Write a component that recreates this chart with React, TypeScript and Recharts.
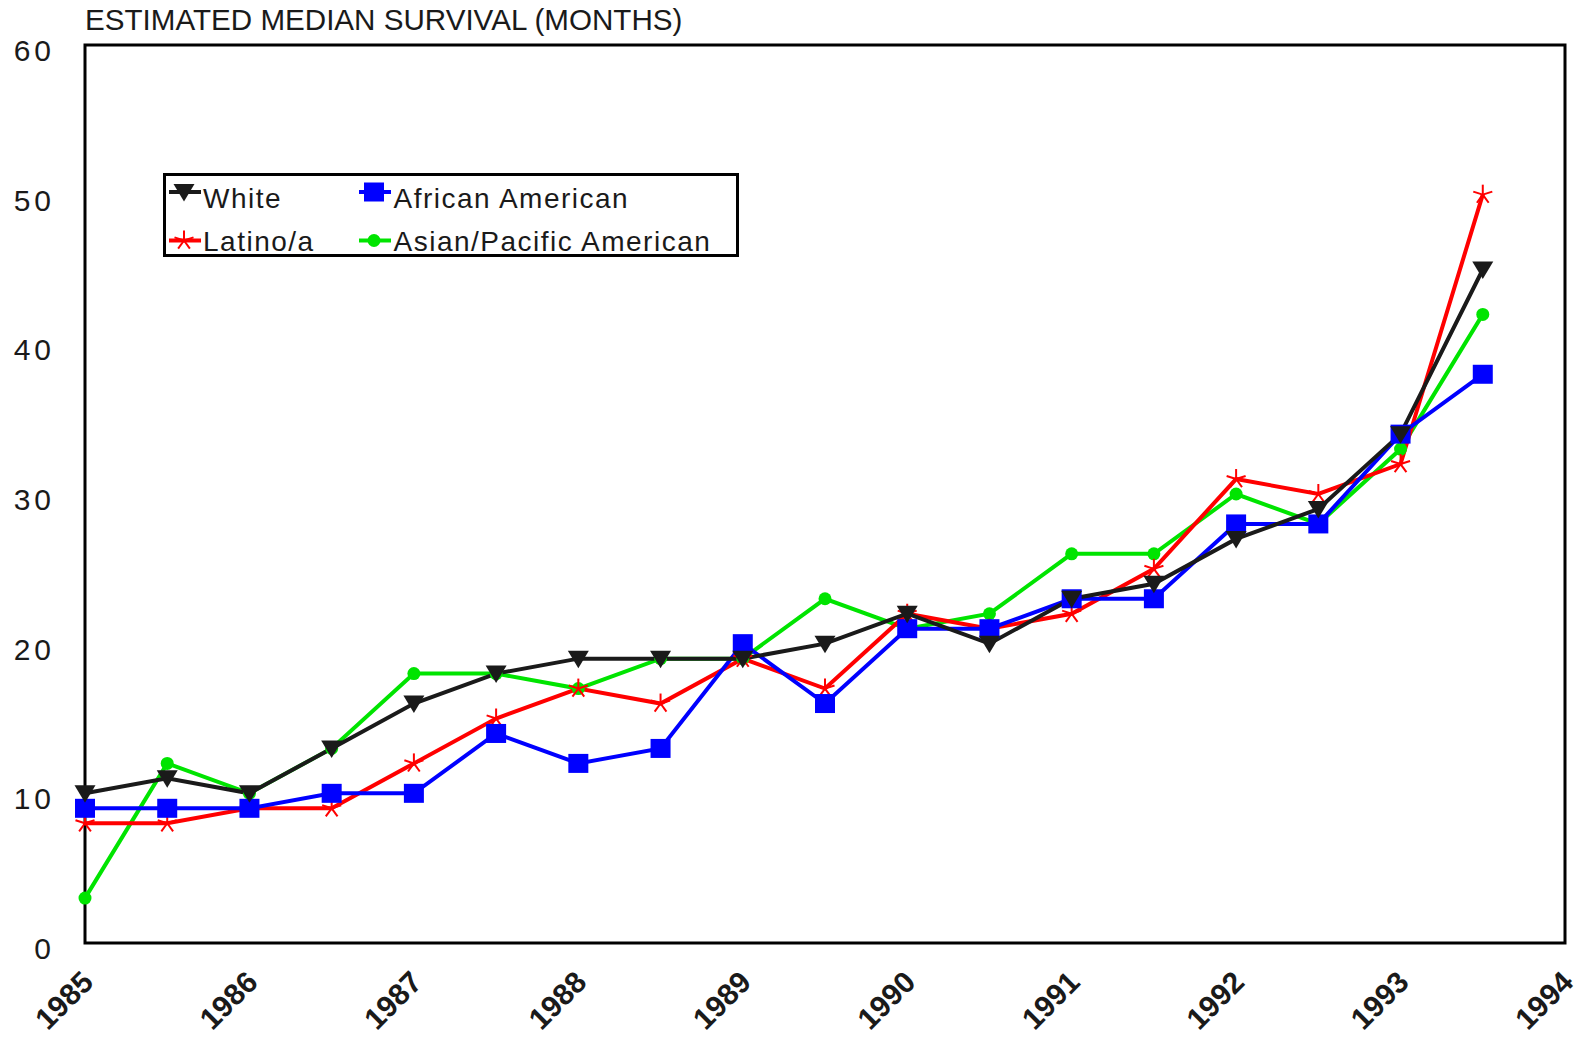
import React from 'react';
import { LineChart, Line, XAxis, YAxis, ReferenceArea, Legend } from 'recharts';

const years = [1985, 1985.5, 1986, 1986.5, 1987, 1987.5, 1988, 1988.5, 1989, 1989.5, 1990, 1990.5, 1991, 1991.5, 1992, 1992.5, 1993, 1993.5];
const white = [10, 11, 10, 13, 16, 18, 19, 19, 19, 20, 22, 20, 23, 24, 27, 29, 34, 45];
const latino = [8, 8, 9, 9, 12, 15, 17, 16, 19, 17, 22, 21, 22, 25, 31, 30, 32, 50];
const african = [9, 9, 9, 10, 10, 14, 12, 13, 20, 16, 21, 21, 23, 23, 28, 28, 34, 38];
const asian = [3, 12, 10, 13, 18, 18, 17, 19, 19, 23, 21, 22, 26, 26, 30, 28, 33, 42];

const xTicks = [1985, 1986, 1987, 1988, 1989, 1990, 1991, 1992, 1993, 1994];
const yTicks = [0, 10, 20, 30, 40, 50, 60];

const data = years.map((year, i) => ({
  year,
  white: white[i],
  latino: latino[i],
  african: african[i],
  asian: asian[i],
}));

const FONT = '"Liberation Sans", Arial, Helvetica, sans-serif';
const BLACK = '#1a1a1a';
const RED = '#ff0000';
const BLUE = '#0000ff';
const GREEN = '#00e400';

function triangle(cx: number, cy: number, key?: any) {
  return <polygon key={key} points={`${cx - 10.5},${cy - 8} ${cx + 10.5},${cy - 8} ${cx},${cy + 9.5}`} fill={BLACK} stroke="none" />;
}
function square(cx: number, cy: number, key?: any) {
  return <rect key={key} x={cx - 10} y={cy - 9.5} width={20} height={19} fill={BLUE} stroke="none" />;
}
function circle(cx: number, cy: number, key?: any) {
  return <circle key={key} cx={cx} cy={cy} r={6.5} fill={GREEN} stroke="none" />;
}
function asterisk(cx: number, cy: number, key?: any) {
  const r = 10;
  const angles = [-90, -18, 54, 126, 198];
  return (
    <g key={key}>
      {angles.map((a, i) => {
        const rad = (a * Math.PI) / 180;
        return <line key={i} x1={cx} y1={cy} x2={cx + r * Math.cos(rad)} y2={cy + r * Math.sin(rad)} stroke={RED} strokeWidth={2} />;
      })}
    </g>
  );
}

const mkDot = (fn: any, prefix: string) => (props: any) => {
  const { cx, cy, index } = props;
  if (cx == null || cy == null) return <g key={`${prefix}-${index}`} />;
  return fn(cx, cy, `${prefix}-${index}`);
};

const YTick = (props: any) => {
  const { x, y, payload } = props;
  return (
    <text x={x - 30} y={y + 16} textAnchor="end" fontSize={30} letterSpacing={4} fill={BLACK} fontFamily={FONT}>
      {payload.value}
    </text>
  );
};

const XTick = (props: any) => {
  const { x, y, payload } = props;
  return (
    <text transform={`translate(${x + 10},${y + 41}) rotate(-45)`} textAnchor="end" fontSize={30} fontWeight="bold" fill={BLACK} fontFamily={FONT}>
      {payload.value}
    </text>
  );
};

const legendItems = [
  { label: 'White', color: BLACK, fn: triangle, col: 0, row: 0 },
  { label: 'African American', color: BLUE, fn: square, col: 1, row: 0 },
  { label: 'Latino/a', color: RED, fn: asterisk, col: 0, row: 1 },
  { label: 'Asian/Pacific American', color: GREEN, fn: circle, col: 1, row: 1 },
];

const renderLegend = () => {
  const colLine = [6, 196];
  const colText = [40, 230.5];
  const rowMark = [19, 67.5];
  const rowBase = [35.3, 77.6];
  return (
    <svg width={576} height={84} style={{ display: 'block' }}>
      <rect x={1.5} y={1.5} width={573} height={81} fill="#fff" stroke="#000" strokeWidth={3} />
      {legendItems.map((it, i) => {
        const lx = colLine[it.col];
        const my = rowMark[it.row];
        return (
          <g key={i}>
            <line x1={lx} y1={my} x2={lx + 32} y2={my} stroke={it.color} strokeWidth={4} />
            {it.fn(lx + 15, my)}
            <text x={colText[it.col]} y={rowBase[it.row]} fontSize={28} letterSpacing={1.5} fill={BLACK} fontFamily={FONT}>
              {it.label}
            </text>
          </g>
        );
      })}
    </svg>
  );
};

export default function App() {
  return (
    <div style={{ position: 'absolute', left: 0, top: 0, width: 1578, height: 1039, background: '#fff' }}>
      <svg style={{ position: 'absolute', left: 0, top: 0 }} width={800} height={40}>
        <text x={85} y={30} fontSize={29.6} fill={BLACK} fontFamily={FONT}>
          ESTIMATED MEDIAN SURVIVAL (MONTHS)
        </text>
      </svg>
      <LineChart width={1578} height={1039} data={data} margin={{ top: 45, right: 13, bottom: 0, left: 0 }}>
        <XAxis
          dataKey="year"
          type="number"
          domain={[1985, 1994]}
          ticks={xTicks}
          interval={0}
          axisLine={false}
          tickLine={false}
          tickSize={0}
          tickMargin={0}
          height={96}
          tick={<XTick />}
        />
        <YAxis
          type="number"
          domain={[0, 60]}
          ticks={yTicks}
          interval={0}
          axisLine={false}
          tickLine={false}
          tickSize={0}
          tickMargin={0}
          width={85}
          tick={<YTick />}
        />
        <ReferenceArea x1={1985} x2={1994} y1={0} y2={60} fill="none" fillOpacity={0} stroke="#000" strokeWidth={3} strokeOpacity={1} ifOverflow="visible" />
        <Legend
          verticalAlign="middle"
          align="center"
          layout="horizontal"
          content={renderLegend}
          wrapperStyle={{ position: 'absolute', left: 163, top: 173, width: 576, height: 84, margin: 0, padding: 0 }}
        />
        <Line dataKey="asian" stroke={GREEN} strokeWidth={4} isAnimationActive={false} dot={mkDot(circle, 'g')} activeDot={false} />
        <Line dataKey="latino" stroke={RED} strokeWidth={4} isAnimationActive={false} dot={mkDot(asterisk, 'r')} activeDot={false} />
        <Line dataKey="african" stroke={BLUE} strokeWidth={4} isAnimationActive={false} dot={mkDot(square, 'b')} activeDot={false} />
        <Line dataKey="white" stroke={BLACK} strokeWidth={4} isAnimationActive={false} dot={mkDot(triangle, 'w')} activeDot={false} />
      </LineChart>
    </div>
  );
}
